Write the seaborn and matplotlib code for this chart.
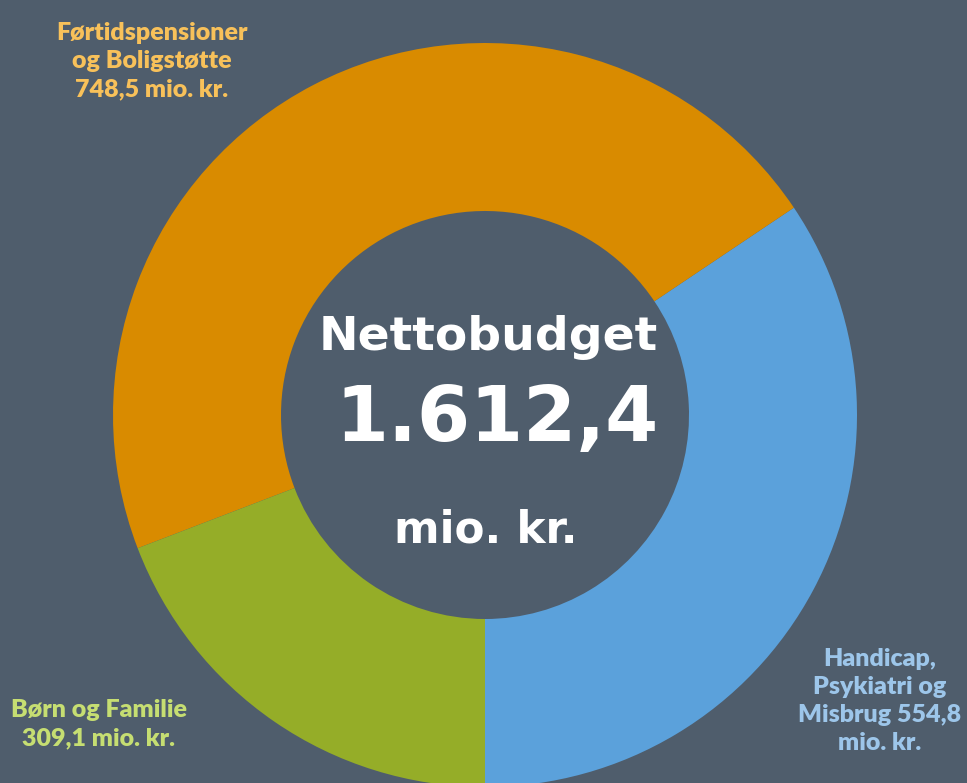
import matplotlib
matplotlib.use("Agg")
import matplotlib.pyplot as plt
import seaborn as sns

sns.set_theme(style="white")
plt.rcParams['font.family'] = ['DejaVu Sans']

categories = ["Handicap,\nPsykiatri og\nMisbrug 554,8\nmio. kr.",
              "Førtidspensioner\nog Boligstøtte\n748,5 mio. kr.",
              "Børn og Familie\n309,1 mio. kr."]
values = [554.8, 748.5, 309.1]
colors = ["#5BA1DB", "#D98B00", "#95AD28"]
label_colors = ["#9DC6EA", "#F8C15A", "#C6DE72"]
total_label = "1.612,4"

BG = "#4F5D6C"
fig = plt.figure(figsize=(9.67, 7.83), dpi=100, facecolor=BG)
ax = fig.add_axes([0, 0, 1, 1])
ax.set_facecolor(BG)

cx, cy, R, r = 485, 783 - 415, 372, 204
ax.pie(values, colors=colors, startangle=-90, counterclock=True,
       center=(cx, cy), radius=R, frame=True,
       wedgeprops=dict(width=R - r, linewidth=0))
ax.set_xlim(0, 967)
ax.set_ylim(0, 783)
ax.set_aspect('equal')
ax.axis('off')

lab_font = ['Lato', 'DejaVu Sans']
fs = 18
ax.text(152, 783 - 61, categories[1], ha='center', va='center', color=label_colors[1],
        fontsize=fs, fontweight='heavy', family=lab_font, linespacing=1.35)
ax.text(880, 783 - 701, categories[0], ha='center', va='center', color=label_colors[0],
        fontsize=fs, fontweight='heavy', family=lab_font, linespacing=1.35)
ax.text(99, 783 - 724, categories[2], ha='center', va='center', color=label_colors[2],
        fontsize=fs, fontweight='heavy', family=lab_font, linespacing=1.35)

ax.text(488, 783 - 338, "Nettobudget", ha='center', va='center', color='white',
        fontsize=34, fontweight='bold')
ax.text(497, 783 - 420, total_label, ha='center', va='center', color='white',
        fontsize=55, fontweight='bold')
ax.text(486, 783 - 530, "mio. kr.", ha='center', va='center', color='white',
        fontsize=31.5, fontweight='bold')

fig.savefig("out.png", dpi=100, facecolor=BG)
